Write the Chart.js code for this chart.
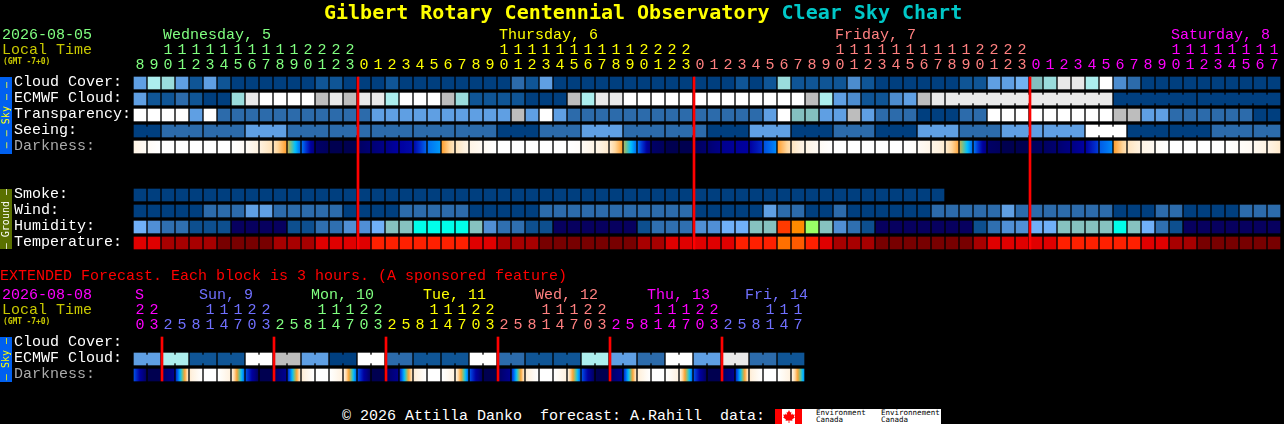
<!DOCTYPE html>
<html><head><meta charset="utf-8">
<script src="https://cdn.jsdelivr.net/npm/chart.js@4"></script>
<style>
html,body{margin:0;padding:0;background:#000;width:1284px;height:424px;overflow:hidden}
canvas{position:absolute;left:0}
.t{position:absolute;white-space:pre;font-family:"Liberation Mono",monospace;font-size:15px;line-height:20px}
.side{position:absolute;left:0;width:12px;display:flex;align-items:center;justify-content:center;overflow:hidden}
.side span{writing-mode:vertical-rl;transform:rotate(180deg);font:10px/12px "DejaVu Sans Mono",monospace;white-space:pre}
#logo{position:absolute;left:775px;top:409px;width:166px;height:15px;background:#fff;overflow:hidden}
#logo i{position:absolute;top:0;height:15px;width:7px;background:#f00}
#logo b{position:absolute;font:7.5px/7px "DejaVu Sans Mono",monospace;color:#000;white-space:pre}
</style></head><body>
<canvas id="main"></canvas><canvas id="ext"></canvas>
<div id="logo"><i style="left:0"></i><i style="left:20px"></i>
<svg style="position:absolute;left:8px;top:1px" width="12" height="13" viewBox="0 0 12 13"><path fill="#f00" d="M6 0 7.2 2.4 8.4 1.8 7.9 5 9.4 3.6 9.8 4.8 11.8 4.4 11 6.8 12 7.3 9.1 9.6 9.5 10.8 6.4 10.4 6.4 13 5.6 13 5.6 10.4 2.5 10.8 2.9 9.6 0 7.3 1 6.8 .2 4.4 2.2 4.8 2.6 3.6 4.1 5 3.6 1.8 4.8 2.4Z"/></svg>
<b style="left:41px;top:0">Environment
Canada</b><b style="left:106px;top:0">Environnement
Canada</b></div>
<script>
// ---------- main forecast: one block per hour ----------
const mainHours=[8,9,10,11,12,13,14,15,16,17,18,19,20,21,22,23,
0,1,2,3,4,5,6,7,8,9,10,11,12,13,14,15,16,17,18,19,20,21,22,23,
0,1,2,3,4,5,6,7,8,9,10,11,12,13,14,15,16,17,18,19,20,21,22,23,
0,1,2,3,4,5,6,7,8,9,10,11,12,13,14,15,16,17];
const mainDayLengths=[16,24,24,18];
const mainDayColors=['#80ff80','#ffff00','#ff8080','#ff00ff'];
const mainMidnights=[16,40,64];

const cloudCover=[4,8,7,4,1,4,1,0,0,0,0,0,0,1,1,0,0,0,1,0,0,0,0,0,0,0,0,2,1,4,0,0,0,0,0,0,0,0,0,0,0,0,0,1,0,1,7,1,1,1,1,3,1,0,0,0,0,0,0,1,1,4,4,5,6,7,10,10,8,11,3,2,0,0,0,0,0,0,0,0,0,0];
const ecmwfCloud=[4,1,1,2,1,0,0,7,10,11,11,11,11,9,10,9,10,10,8,11,11,11,9,7,1,1,1,1,0,0,0,9,8,10,10,11,11,11,11,11,11,11,11,11,11,11,11,11,9,8,4,3,1,1,3,4,9,10,10,10,10,10,10,10,10,10,10,10,10,10,0,0,0,0,0,0,0,0,0,0,0,0];
const transparency=[11,11,11,11,4,11,2,2,2,2,2,2,2,2,2,2,2,4,4,4,4,4,4,4,4,4,4,9,4,11,4,2,2,2,2,2,2,2,2,2,2,2,2,2,2,4,11,6,6,4,4,9,4,2,2,2,0,0,0,2,2,11,11,11,11,11,11,11,11,11,9,9,4,4,2,2,2,2,2,2,0,0];
const seeing=[0,0,2,2,2,2,2,2,4,4,4,2,2,2,2,2,2,2,2,2,2,2,2,2,2,2,0,0,0,2,2,2,4,4,4,2,2,2,2,2,2,0,0,0,4,4,4,0,0,0,2,2,2,0,0,0,4,4,4,2,2,2,4,4,4,4,4,4,11,11,11,0,0,0,0,0,0,2,2,2,2,2];
const darkStart=[.8,.3,0,0,0,0,0,0,.3,1,1.6,3.5,6,9.5,10,10,9.6,9.2,8.7,8,7.8,6,3,1.5,.8,.4,0,0,0,0,0,0,.3,.8,1.3,3.7,6,9.5,10,10,9.7,9.3,8.5,8.2,8,6.5,3,1.5,.8,.3,0,0,0,0,0,0,.3,.8,1.3,3.5,6,9.5,10,10,9.8,9.6,9.3,8.8,8,6.3,3,1.5,.8,.3,0,0,0,0,0,.2,.5,.9];
const darkEnd=[.3,0,0,0,0,0,0,.3,1,1.6,3,6,8.8,9.7,10,10,9.2,8.7,8,7.8,6.2,5.5,1.5,.8,.4,0,0,0,0,0,0,.2,.8,1.3,3,6,8.8,9.7,10,10,9.3,8.7,8.2,8,7.2,5.7,1.7,.8,.4,0,0,0,0,0,0,.2,.7,1.2,2.8,6,8.8,9.7,10,10,9.6,9.3,8.8,8,6.8,5.7,1.7,1,.5,0,0,0,0,0,.2,.4,.9,1.3];
const smoke=[0,0,0,0,0,0,0,0,0,0,0,0,0,0,0,0,0,0,0,0,0,0,0,0,0,0,0,0,0,0,0,0,0,0,0,0,0,0,0,0,0,0,0,0,0,0,0,0,0,0,0,0,0,0,0,0,0,0];
const wind=[0,0,0,0,0,2,2,2,4,4,2,2,2,2,2,0,0,0,0,2,2,2,2,2,0,0,0,0,0,2,2,2,2,2,2,2,2,2,2,2,0,0,0,0,0,4,2,2,0,0,2,0,0,0,0,0,0,2,2,2,2,2,4,2,2,2,2,2,2,2,0,0,0,2,2,0,0,0,0,2,2,2];
const humidity=[4,3,2,2,1,1,1,0,0,0,0,1,1,2,2,3,3,4,5,5,6,6,6,6,5,3,2,2,1,1,0,0,0,0,0,0,1,2,2,2,3,3,4,4,5,5,9,8,7,5,3,2,1,0,0,0,0,0,0,0,1,2,3,3,4,4,5,5,5,5,6,5,4,2,1,0,0,0,0,0,0,0];
const temperature=[2,2,1,1,1,1,0,0,0,0,1,1,1,2,2,2,2,3,3,3,3,3,3,3,2,2,1,1,1,0,0,0,0,0,0,0,1,1,2,2,2,2,2,3,3,3,5,4,3,2,1,1,1,0,0,0,0,0,0,0,1,2,2,2,2,2,3,3,3,3,3,3,2,2,1,1,0,0,0,0,0,0];
// blocks joined to the next one (runs of first..last)
const seeingRuns=[[0,1],[2,4],[5,7],[8,10],[11,13],[14,16],[17,19],[20,22],[23,25],[26,28],[29,31],[32,34],[35,37],[38,40],[41,43],[44,46],[47,49],[50,52],[53,55],[56,58],[59,61],[62,64],[65,67],[68,70],[71,73],[74,76],[77,79],[80,81]];
const ecmwfRuns=[[58,69],[70,75],[76,81]];

// ---------- extended forecast: one block per 3 hours ----------
const extHours=[20,23,2,5,8,11,14,17,20,23,2,5,8,11,14,17,20,23,2,5,8,11,14,17,20,23,2,5,8,11,14,17,20,23,2,5,8,11,14,17,20,23,2,5,8,11,14,17];
const extDayLengths=[2,8,8,8,8,8,6];
const extDayColors=['#ff00ff','#7070ff','#80ff80','#ffff00','#ff8080','#ff00ff','#7070ff'];
const extMidnights=[2,10,18,26,34,42];
const extCloud=[4,4,8,8,1,1,1,1,11,11,9,9,4,4,0,0,11,11,2,2,1,1,1,1,11,11,2,2,1,1,1,1,8,8,4,4,2,2,11,11,4,4,10,10,2,2,1,1];
const extDarkStart=[6.5,10,9.6,7,1.2,0,0,1,6.5,10,9.6,7,1.2,0,0,1,6.5,10,9.6,7,1.2,0,0,1,6.5,10,9.6,7,1.2,0,0,1,6.5,10,9.6,7,1.2,0,0,1,6.5,10,9.6,7,1.2,0,0,.8];
const extDarkEnd=[9.6,10,8.5,1.5,0,0,1,6,9.6,10,8.5,1.5,0,0,1,6,9.6,10,8.5,1.5,0,0,1,6,9.6,10,8.5,1.5,0,0,1,6,9.6,10,8.5,1.5,0,0,1,6,9.6,10,8.5,1.5,0,0,1,5.5];
const extRuns=[[0,1],[2,3],[4,5],[6,7],[8,9],[10,11],[12,13],[14,15],[16,17],[18,19],[20,21],[22,23],[24,25],[26,27],[28,29],[30,31],[32,33],[34,35],[36,37],[38,39],[40,41],[42,43],[44,45],[46,47]];

// ---------- colour scales ----------
const cloudColors=['#003f7f','#0f5596','#2c6bab','#4c8ccf','#5f9fe3','#72b2f2','#84c0c0','#9adcdc','#aceeee','#bdbdbd','#e9e9e9','#ffffff'];
const humidityColors=['#07005f','#0d4f8f','#2f6fb0','#508fd5','#70b0f8','#86c2c0','#00ffea','#99ff66','#ff8a00','#ff3a00'];
const temperatureColors=['#780000','#a80000','#e00000','#ff2000','#ff5a00','#ff7000'];
const darknessColors=['#ffffff','#fff2e0','#ffd8a0','#ffa030','#80c080','#00c0ff','#0070f0','#0030d0','#0000a0','#00007c','#000050'];

const hex=c=>[1,3,5].map(k=>parseInt(c.substr(k,2),16));
function darkAt(v){v=Math.max(0,Math.min(10,v));const a=Math.floor(v),b=Math.min(a+1,10),f=v-a,A=hex(darknessColors[a]),B=hex(darknessColors[b]);
  return 'rgb('+A.map((x,k)=>Math.round(x+(B[k]-x)*f)).join(',')+')';}

function expand(lengths,colors){const out=[];lengths.forEach((n,d)=>{for(let k=0;k<n;k++)out.push(colors[d]);});return out;}

function cells(values,row,palette){return{
  data:values.map((v,i)=>({x:i+.5,y:[row-.375,row+.375]})),
  backgroundColor:values.map(v=>palette[v]),barThickness:12,order:2};}
function necks(values,row,palette,runs){const pts=[],cols=[];
  runs.forEach(([a,b])=>{for(let i=a;i<b;i++){pts.push({x:i+1,y:[row-.25,row+.25]});cols.push(palette[values[i]]);}});
  return{data:pts,backgroundColor:cols,barThickness:2,order:2};}
function dark(start,end,row){return{
  data:start.map((v,i)=>({x:i+.5,y:[row-.375,row+.375]})),barThickness:12,order:2,
  backgroundColor(ctx){
    if(ctx.type!=='data')return '#000';
    const c=ctx.chart.scales.x.getPixelForValue(ctx.dataIndex+.5);
    if(!isFinite(c))return '#000';
    const g=ctx.chart.ctx.createLinearGradient(c-6,0,c+6,0);
    const s=start[ctx.dataIndex],e=end[ctx.dataIndex];
    for(let k=0;k<=12;k++)g.addColorStop(k/12,darkAt(s+(e-s)*k/12));
    return g;}};}
function midnight(list,top,bottom){return{
  data:list.map(m=>({x:m+1/14,y:[top-.375,bottom+.375]})),backgroundColor:'#ff0000',barThickness:2,order:0};}

const FONT='"Liberation Mono"';
function build(id,top,height,areaTop,cols,hours,dayColors,rowLabels,rowColors,ymin,ymax,datasets){
  const el=document.getElementById(id);el.style.top=top+'px';
  const rows=Object.keys(rowLabels).map(Number);
  return new Chart(el,{type:'bar',data:{datasets},options:{
    responsive:false,animation:false,devicePixelRatio:1,
    datasets:{bar:{grouped:false,borderWidth:0}},
    layout:{autoPadding:false,padding:{left:14,right:1284-133-14*cols,top:0,bottom:height-(areaTop-top)-(ymax-ymin)*16}},
    plugins:{legend:{display:false},tooltip:{enabled:false},title:{display:false}},
    scales:{
      x:{type:'linear',position:'top',offset:false,min:0,max:cols,grid:{display:false,drawTicks:false},border:{display:false},
        afterFit(s){s.height=areaTop-top;s.paddingLeft=s.paddingRight=0;},
        afterBuildTicks(s){s.ticks=hours.map((h,i)=>({value:i+.5}));},
        ticks:{autoSkip:false,maxRotation:0,minRotation:0,padding:2,
          font:{family:FONT,size:15,lineHeight:'15px'},
          color:c=>dayColors[c.index],
          callback(v,i){const h=hours[i];return[h>=10?String(Math.floor(h/10)):'',String(h%10)];}}},
      y:{type:'linear',reverse:true,min:ymin,max:ymax,grid:{display:false,drawTicks:false},border:{display:false},
        afterFit(s){s.width=119;s.paddingTop=s.paddingBottom=0;},
        afterBuildTicks(s){s.ticks=rows.map(r=>({value:r-.09}));},
        ticks:{autoSkip:false,crossAlign:'far',padding:0,
          font:{family:FONT,size:15},
          color:c=>rowColors[rows[c.index]]||'#fff',
          callback:(v,i)=>rowLabels[rows[i]]}}
    }}});
}
function size(id,h){const c=document.getElementById(id);c.width=1284;c.height=h;}
size('main',252);size('ext',104);

build('main',0,252,75,82,mainHours,expand(mainDayLengths,mainDayColors),
  {0:'Cloud Cover:',1:'ECMWF Cloud:',2:'Transparency:',3:'Seeing:',4:'Darkness:',7:'Smoke:',8:'Wind:',9:'Humidity:',10:'Temperature:'},
  {4:'#aaaaaa'},-.5,10.5,[
  midnight(mainMidnights,0,10),
  cells(cloudCover,0,cloudColors),
  cells(ecmwfCloud,1,cloudColors),necks(ecmwfCloud,1,cloudColors,ecmwfRuns),
  cells(transparency,2,cloudColors),
  cells(seeing,3,cloudColors),necks(seeing,3,cloudColors,seeingRuns),
  dark(darkStart,darkEnd,4),
  cells(smoke,7,cloudColors),
  cells(wind,8,cloudColors),
  cells(humidity,9,humidityColors),
  cells(temperature,10,temperatureColors)]);

build('ext',280,104,335,48,extHours,expand(extDayLengths,extDayColors),
  {0:'Cloud Cover:',1:'ECMWF Cloud:',2:'Darkness:'},{2:'#aaaaaa'},-.5,2.5,[
  midnight(extMidnights,0,2),
  cells(extCloud,1,cloudColors),necks(extCloud,1,cloudColors,extRuns),
  dark(extDarkStart,extDarkEnd,2)]);

// ---------- page text ----------
function text(s,x,cy,color,extra){const d=document.createElement('div');d.className='t';d.textContent=s;
  d.style.left=x+'px';d.style.top=(cy-9)+'px';d.style.color=color;if(extra)Object.assign(d.style,extra);document.body.appendChild(d);return d;}
const title=text('',324,11,'#ffff00',{fontFamily:'"DejaVu Sans Mono"',fontWeight:'bold',fontSize:'20px'});
title.innerHTML='Gilbert Rotary Centennial Observatory <span style="color:#00c8c8">Clear Sky Chart</span>';
const small={fontFamily:'"DejaVu Sans Mono"',fontSize:'8px',fontWeight:'bold',letterSpacing:'-.1px'};
text('2026-08-05',2,35,'#80ff80');text('Local Time',2,50,'#c8c800');text('(GMT -7+0)',3,61,'#c8c800',small);
text('Wednesday, 5',163,35,'#80ff80');text('Thursday, 6',499,35,'#ffff00');text('Friday, 7',835,35,'#ff8080');text('Saturday, 8',1171,35,'#ff00ff');
text('EXTENDED Forecast. Each block is 3 hours. (A sponsored feature)',0,276,'#ff0000');
text('2026-08-08',2,295,'#ff00ff');text('Local Time',2,310,'#c8c800');text('(GMT -7+0)',3,321,'#c8c800',small);
text('S',135,295,'#ff00ff');text('Sun, 9',199,295,'#7070ff');text('Mon, 10',311,295,'#80ff80');text('Tue, 11',423,295,'#ffff00');
text('Wed, 12',535,295,'#ff8080');text('Thu, 13',647,295,'#ff00ff');text('Fri, 14',745,295,'#7070ff');
text('\u00a9 2026 Attilla Danko  forecast: A.Rahill  data:',342,416,'#ffffff');
function side(label,top,h,bg,fg){const d=document.createElement('div');d.className='side';d.style.top=top+'px';d.style.height=h+'px';d.style.background=bg;
  d.innerHTML='<span style="color:'+fg+'">'+label+'</span>';document.body.appendChild(d);}
side('\u2014 \u2014 Sky \u2014 \u2014',77,77,'#0060f0','#ffff00');
side('\u2014 Ground \u2014',189,60,'#5a7000','#ffffff');
side('\u2014 Sky \u2014',337,45,'#0060f0','#ffff00');
</script></body></html>
